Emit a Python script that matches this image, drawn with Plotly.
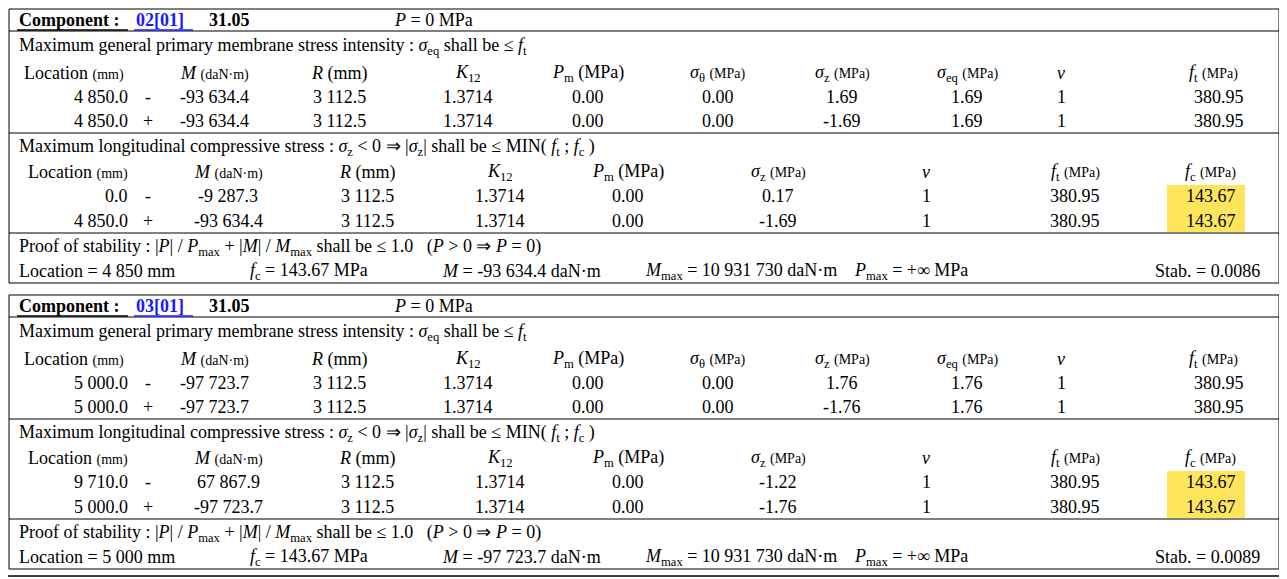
import plotly.graph_objects as go

# ---- data ----
components = ["02[01]", "03[01]"]
comp_code = "31.05"
pressure = [0, 0]

gen_loc = [["4 850.0", "4 850.0"], ["5 000.0", "5 000.0"]]
gen_sign = [["-", "+"], ["-", "+"]]
gen_M = [["-93 634.4", "-93 634.4"], ["-97 723.7", "-97 723.7"]]
gen_R = [["3 112.5", "3 112.5"], ["3 112.5", "3 112.5"]]
gen_K = [["1.3714", "1.3714"], ["1.3714", "1.3714"]]
gen_Pm = [["0.00", "0.00"], ["0.00", "0.00"]]
gen_st = [["0.00", "0.00"], ["0.00", "0.00"]]
gen_sz = [["1.69", "-1.69"], ["1.76", "-1.76"]]
gen_seq = [["1.69", "1.69"], ["1.76", "1.76"]]
gen_v = [["1", "1"], ["1", "1"]]
gen_ft = [["380.95", "380.95"], ["380.95", "380.95"]]

lon_loc = [["0.0", "4 850.0"], ["9 710.0", "5 000.0"]]
lon_sign = [["-", "+"], ["-", "+"]]
lon_M = [["-9 287.3", "-93 634.4"], ["67 867.9", "-97 723.7"]]
lon_R = [["3 112.5", "3 112.5"], ["3 112.5", "3 112.5"]]
lon_K = [["1.3714", "1.3714"], ["1.3714", "1.3714"]]
lon_Pm = [["0.00", "0.00"], ["0.00", "0.00"]]
lon_sz = [["0.17", "-1.69"], ["-1.22", "-1.76"]]
lon_v = [["1", "1"], ["1", "1"]]
lon_ft = [["380.95", "380.95"], ["380.95", "380.95"]]
lon_fc = [["143.67", "143.67"], ["143.67", "143.67"]]

stab_loc = ["4 850", "5 000"]
stab_fc = ["143.67", "143.67"]
stab_M = ["-93 634.4", "-97 723.7"]
stab_Mmax = ["10 931 730", "10 931 730"]
stab_val = ["0.0086", "0.0089"]

FONT = "Liberation Serif, Times New Roman, serif"
S = 18
U = "<span style='font-size:14px'>"

fig = go.Figure()
ann = []
shapes = []


def txt(x, y, t, anchor="center", size=S, color="black"):
    ann.append(dict(x=x, y=y, text=t, xanchor=anchor, yanchor="middle", showarrow=False,
                    font=dict(family=FONT, size=size, color=color)))


def hline(y, x0=9, x1=1279, w=1):
    shapes.append(dict(type="line", x0=x0, x1=x1, y0=y, y1=y, line=dict(color="black", width=w)))


shapes.append(dict(type="rect", x0=3, x1=1284, y0=3, y1=576, line=dict(color="black", width=1.5)))

for b in range(2):
    o = b * 286
    shapes.append(dict(type="rect", x0=9, x1=1279, y0=9 + o, y1=283 + o, line=dict(color="black", width=1)))
    hline(31 + o); hline(133 + o); hline(233 + o)
    txt(17, 20 + o, "<b>Component : </b>", "left")
    txt(134, 20 + o, "<b>" + components[b] + "</b>", "left", color="#1a1aff")
    shapes.append(dict(type="line", x0=17, x1=128, y0=30 + o, y1=30 + o, line=dict(color="black", width=1.5)))
    shapes.append(dict(type="line", x0=134, x1=193, y0=30 + o, y1=30 + o, line=dict(color="#1a1aff", width=1.5)))
    txt(207, 20 + o, "<b>" + comp_code + "</b>", "left")
    txt(392, 20 + o, "<i>P</i> = %d MPa" % pressure[b], "left")

    txt(17, 46 + o, "Maximum general primary membrane stress intensity : <i>σ</i><sub>eq</sub> shall be ≤ <i>f</i><sub>t</sub>", "left")
    hy = 73 + o
    txt(22, hy, "Location " + U + "(mm)</span>", "left")
    txt(214, hy, "<i>M</i> " + U + "(daN·m)</span>")
    txt(339, hy, "<i>R</i> (mm)")
    txt(468, hy, "<i>K</i><sub>12</sub>")
    txt(588, hy, "<i>P</i><sub>m</sub> (MPa)")
    txt(718, hy, "<i>σ</i><sub>θ</sub> " + U + "(MPa)</span>")
    txt(842, hy, "<i>σ</i><sub>z</sub> " + U + "(MPa)</span>")
    txt(967, hy, "<i>σ</i><sub>eq</sub> " + U + "(MPa)</span>")
    txt(1061, hy, "<i>v</i>")
    txt(1213, hy, "<i>f</i><sub>t</sub> " + U + "(MPa)</span>")
    for r in range(2):
        y = 97 + 24 * r + o
        txt(130, y, gen_loc[b][r], "right")
        txt(148, y, gen_sign[b][r])
        txt(214, y, gen_M[b][r])
        txt(339, y, gen_R[b][r])
        txt(468, y, gen_K[b][r])
        txt(588, y, gen_Pm[b][r])
        txt(718, y, gen_st[b][r])
        txt(842, y, gen_sz[b][r])
        txt(967, y, gen_seq[b][r])
        txt(1061, y, gen_v[b][r])
        txt(1246, y, gen_ft[b][r], "right")

    txt(17, 147 + o, "Maximum longitudinal compressive stress : <i>σ</i><sub>z</sub> < 0 ⇒ |<i>σ</i><sub>z</sub>| shall be ≤ MIN( <i>f</i><sub>t</sub> ; <i>f</i><sub>c</sub> )", "left")
    shapes.append(dict(type="rect", x0=1167, x1=1245, y0=185 + o, y1=232 + o,
                       fillcolor="#ffe55c", line=dict(width=0), layer="below"))
    hy = 172 + o
    txt(78, hy, "Location " + U + "(mm)</span>")
    txt(228, hy, "<i>M</i> " + U + "(daN·m)</span>")
    txt(367, hy, "<i>R</i> (mm)")
    txt(500, hy, "<i>K</i><sub>12</sub>")
    txt(628, hy, "<i>P</i><sub>m</sub> (MPa)")
    txt(778, hy, "<i>σ</i><sub>z</sub> " + U + "(MPa)</span>")
    txt(926, hy, "<i>v</i>")
    txt(1075, hy, "<i>f</i><sub>t</sub> " + U + "(MPa)</span>")
    txt(1210, hy, "<i>f</i><sub>c</sub> " + U + "(MPa)</span>")
    for r in range(2):
        y = 196 + 25 * r + o
        txt(130, y, lon_loc[b][r], "right")
        txt(148, y, lon_sign[b][r])
        txt(228, y, lon_M[b][r])
        txt(367, y, lon_R[b][r])
        txt(500, y, lon_K[b][r])
        txt(628, y, lon_Pm[b][r])
        txt(778, y, lon_sz[b][r])
        txt(926, y, lon_v[b][r])
        txt(1075, y, lon_ft[b][r])
        txt(1238, y, lon_fc[b][r], "right")

    txt(17, 247 + o, "Proof of stability : |<i>P</i>| / <i>P</i><sub>max</sub> + |<i>M</i>| / <i>M</i><sub>max</sub> shall be ≤ 1.0   (<i>P</i> > 0 ⇒ <i>P</i> = 0)", "left")
    y = 271 + o
    txt(17, y, "Location = " + stab_loc[b] + " mm", "left")
    txt(248, y, "<i>f</i><sub>c</sub> = " + stab_fc[b] + " MPa", "left")
    txt(440, y, "<i>M</i> = " + stab_M[b] + " daN·m", "left")
    txt(643, y, "<i>M</i><sub>max</sub> = " + stab_Mmax[b] + " daN·m", "left")
    txt(852, y, "<i>P</i><sub>max</sub> = +∞ MPa", "left")
    txt(1262, y, "Stab. = " + stab_val[b], "right")

# page body adds an 8px margin, so the figure is sized and ranged to compensate
fig.update_layout(width=1279, height=571, margin=dict(l=0, r=0, t=0, b=0),
                  paper_bgcolor="white", plot_bgcolor="white",
                  xaxis=dict(range=[8, 1287], visible=False, fixedrange=True),
                  yaxis=dict(range=[579, 8], visible=False, fixedrange=True),
                  annotations=ann, shapes=shapes, showlegend=False)
fig.write_html("out.html")
